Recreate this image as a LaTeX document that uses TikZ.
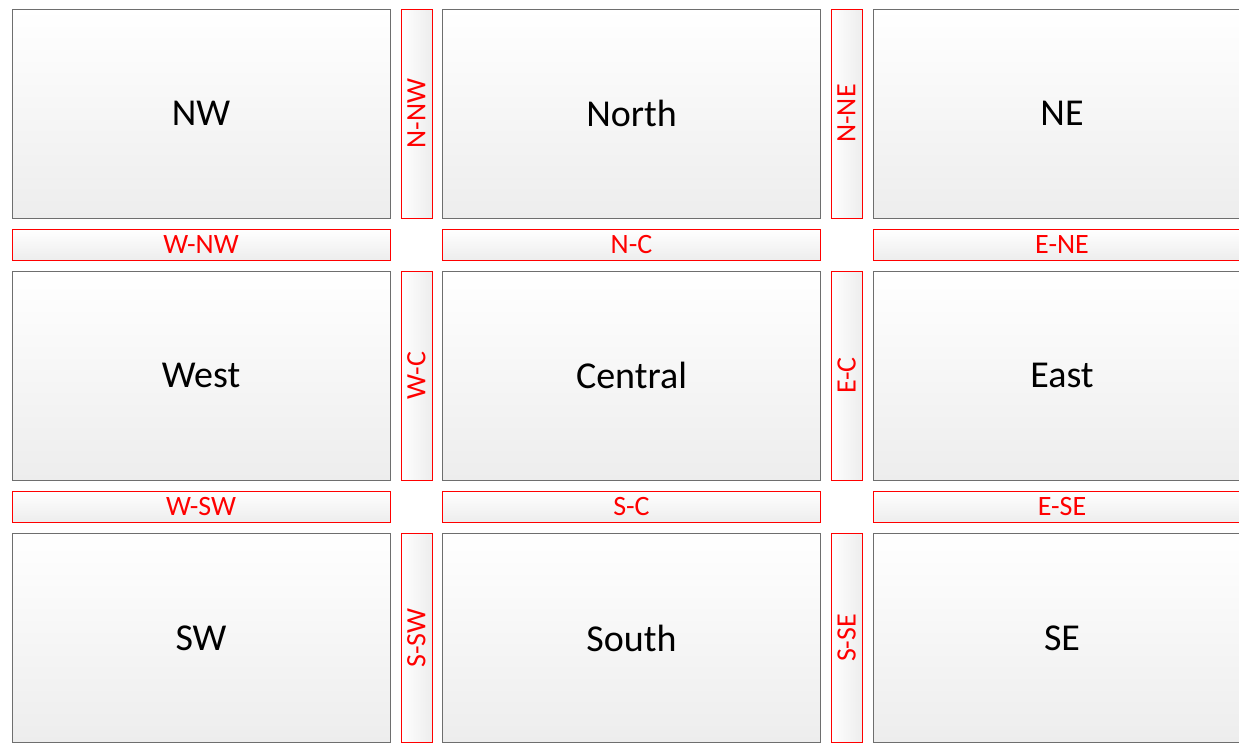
\documentclass[tikz,border=0pt]{standalone}
\usepackage{fontspec}
\setmainfont{Carlito}
\usetikzlibrary{positioning}

\definecolor{boxline}{HTML}{6E6E6E}
\definecolor{boxfill}{HTML}{EDEDED}
\definecolor{stripred}{HTML}{FF0000}

\begin{document}
\begin{tikzpicture}[x=1pt, y=-1pt,
  region/.style={draw=boxline, line width=1pt, top color=white, bottom color=boxfill,
    minimum width=378pt, minimum height=209pt, inner sep=0pt, outer sep=0pt,
    font=\fontsize{38}{44}\selectfont},
  strip/.style={draw=stripred, line width=1pt, top color=white, bottom color=boxfill,
    minimum width=378pt, minimum height=31pt, inner sep=0pt, outer sep=0pt,
    text=stripred, font=\fontsize{28}{32}\selectfont},
  vstrip/.style={strip, left color=white, right color=boxfill,
    minimum width=31pt, minimum height=209pt}]
  \useasboundingbox (0,0) rectangle (1239,744);
  \clip (0,0) rectangle (1239,744);
  % regions
  \node[region] (nw) at (201,113.5) {NW};
  \node[region] (north) at (631.5,113.5) {North};
  \node[region] (ne) at (1062,113.5) {NE};
  \node[region] (west) at (201,375.5) {West};
  \node[region] (central) at (631.5,375.5) {Central};
  \node[region] (east) at (1062,375.5) {East};
  \node[region] (sw) at (201,638) {SW};
  \node[region] (south) at (631.5,638) {South};
  \node[region] (se) at (1062,638) {SE};
  % vertical borders
  \node[vstrip] (n-nw) at (416.5,113.5) {\rotatebox{90}{N-NW}};
  \node[vstrip] (n-ne) at (846.5,113.5) {\rotatebox{90}{N-NE}};
  \node[vstrip] (w-c) at (416.5,375.5) {\rotatebox{90}{W-C}};
  \node[vstrip] (e-c) at (846.5,375.5) {\rotatebox{90}{E-C}};
  \node[vstrip] (s-sw) at (416.5,638) {\rotatebox{90}{S-SW}};
  \node[vstrip] (s-se) at (846.5,638) {\rotatebox{90}{S-SE}};
  % horizontal borders
  \node[strip] (w-nw) at (201,244.5) {W-NW};
  \node[strip] (n-c) at (631.5,244.5) {N-C};
  \node[strip] (e-ne) at (1062,244.5) {E-NE};
  \node[strip] (w-sw) at (201,506.5) {W-SW};
  \node[strip] (s-c) at (631.5,506.5) {S-C};
  \node[strip] (e-se) at (1062,506.5) {E-SE};
\end{tikzpicture}
\end{document}
